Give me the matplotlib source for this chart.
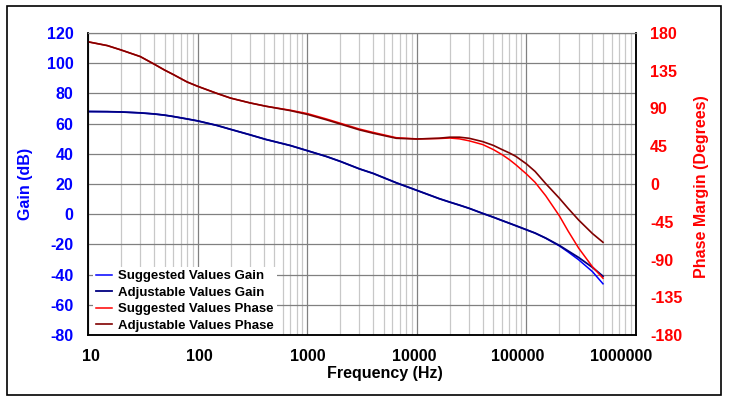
import matplotlib
matplotlib.use("Agg")
import matplotlib.pyplot as plt
import matplotlib.ticker as mticker
import matplotlib.transforms as mtransforms
from matplotlib.patches import Rectangle

plt.rcParams['font.family'] = ['Liberation Sans', 'DejaVu Sans']
plt.rcParams['font.weight'] = 'bold'
plt.rcParams['axes.unicode_minus'] = False

# frequencies (Hz)
freq = [10, 15, 20, 30, 40, 50, 60, 80, 100, 150, 200, 300, 420, 700, 1000, 1500,
        2000, 3000, 4000, 6500, 10000, 16000, 20000, 24500, 30000, 40000, 50000,
        60000, 70000, 80000, 100000, 120000, 150000, 200000, 240000, 300000,
        400000, 500000]

gain_suggested = [68.0, 67.9, 67.7, 67.1, 66.4, 65.6, 64.7, 63.1, 61.8, 58.8, 56.2,
                  52.6, 49.5, 45.5, 42.1, 38.2, 35.0, 30.0, 27.0, 20.8, 15.8, 10.3,
                  8.0, 6.0, 3.9, 0.5, -2.0, -4.2, -6.0, -7.6, -10.3, -12.5, -15.9,
                  -21.0, -25.0, -30.2, -38.0, -46.1]
gain_adjustable = [68.0, 67.9, 67.7, 67.1, 66.4, 65.6, 64.7, 63.1, 61.8, 58.8, 56.2,
                   52.6, 49.5, 45.5, 42.1, 38.2, 35.0, 30.0, 27.0, 20.8, 15.8, 10.3,
                   8.0, 6.0, 3.9, 0.5, -2.0, -4.2, -6.0, -7.6, -10.3, -12.5, -15.8,
                   -20.7, -24.3, -28.7, -35.2, -41.1]
phase_suggested = [169.5, 165.0, 159.8, 151.9, 143.0, 135.8, 130.5, 121.7, 116.5, 108.0,
                   102.4, 96.7, 92.7, 88.0, 84.0, 77.5, 72.5, 65.5, 61.5, 55.2, 53.8,
                   54.2, 54.8, 53.8, 51.5, 47.0, 41.0, 35.0, 29.0, 23.0, 12.0, 2.0,
                   -14.0, -38.0, -56.0, -76.5, -98.6, -112.4]
phase_adjustable = [169.5, 165.0, 159.8, 151.9, 143.0, 135.8, 130.5, 121.7, 116.5, 108.0,
                    102.4, 96.7, 92.7, 87.5, 83.0, 76.5, 71.5, 64.5, 60.5, 54.5, 53.6,
                    54.6, 55.8, 55.8, 54.5, 50.5, 46.0, 41.0, 37.0, 33.0, 24.0, 15.0,
                    0.5, -17.0, -29.0, -43.0, -59.0, -69.5]

x_ticks = [10, 100, 1000, 10000, 100000, 1000000]
x_tick_labels = ['10', '100', '1000', '10000', '100000', '1000000']
x_label_shift = [3, 2, 1, -3, -9, -15]  # px, labels sit a bit off their gridlines
gain_ticks = list(range(-80, 121, 20))
phase_ticks = list(range(-180, 181, 45))

BLUE = '#0000ff'
NAVY = '#000080'
RED = '#ff0000'
DARKRED = '#800000'

fig = plt.figure(figsize=(7.34, 3.97), dpi=100)
fig.patches.append(Rectangle((7 / 734, 2 / 397), 714 / 734, 389 / 397, transform=fig.transFigure,
                             fill=False, edgecolor='black', linewidth=1.2))

ax = fig.add_axes([88 / 734, 1 - 335 / 397, 548 / 734, 302 / 397])
ax2 = ax.twinx()

l1, = ax.plot(freq, gain_suggested, color=BLUE, lw=1.1, label='Suggested Values Gain')
l2, = ax.plot(freq, gain_adjustable, color=NAVY, lw=1.3, label='Adjustable Values Gain')
l3, = ax2.plot(freq, phase_suggested, color=RED, lw=1.1, label='Suggested Values Phase')
l4, = ax2.plot(freq, phase_adjustable, color=DARKRED, lw=1.2, label='Adjustable Values Phase')

ax.set_xscale('log')
ax.set_xlim(10, 1e6)
ax.set_ylim(-80, 120)
ax2.set_ylim(-180, 180)

ax.set_xticks(x_ticks)
ax.set_xticklabels(x_tick_labels)
ax.xaxis.set_minor_locator(mticker.LogLocator(base=10, subs=range(2, 10)))
ax.xaxis.set_minor_formatter(mticker.NullFormatter())
ax.set_yticks(gain_ticks)
ax2.set_yticks(phase_ticks)

ax.grid(True, which='major', color='#808080', lw=0.9)
ax.grid(True, which='minor', axis='x', color='#c8c8c8', lw=0.9)
ax.set_axisbelow(True)

ax.tick_params(axis='x', which='both', length=0, pad=10, labelsize=11.5)
ax.tick_params(axis='y', length=0, pad=10.5, labelsize=11.5, labelcolor=BLUE)
ax2.tick_params(axis='y', length=0, pad=10, labelsize=11.5, labelcolor=RED)

for lab, dx in zip(ax.get_xticklabels(), x_label_shift):
    lab.set_transform(lab.get_transform() + mtransforms.ScaledTranslation(dx / 100, 0, fig.dpi_scale_trans))

for a in (ax, ax2):
    for s in ('left', 'right', 'bottom'):
        a.spines[s].set_color('black')
        a.spines[s].set_linewidth(1.1)
    a.spines['top'].set_color('#808080')

ax.set_xlabel('Frequency (Hz)', fontsize=11.5, fontweight='bold')
ax.xaxis.set_label_coords(0.541, -0.103)
ax.set_ylabel('Gain (dB)', fontsize=11.5, fontweight='bold', color=BLUE)
ax.yaxis.set_label_coords(-0.10, 0.5)
ax2.set_ylabel('Phase Margin (Degrees)', fontsize=11.5, fontweight='bold', color=RED)
ax2.yaxis.set_label_coords(1.106, 0.49)

leg = ax2.legend(handles=[l1, l2, l3, l4], loc='lower left', bbox_to_anchor=(0.008, 0.0),
                 prop={'size': 9.5, 'weight': 'bold'}, frameon=True, fancybox=False,
                 framealpha=1, edgecolor='none', borderaxespad=0.05, borderpad=0.2,
                 labelspacing=0.32, handlelength=1.2, handletextpad=0.5)

plt.savefig('out.png', dpi=100)
